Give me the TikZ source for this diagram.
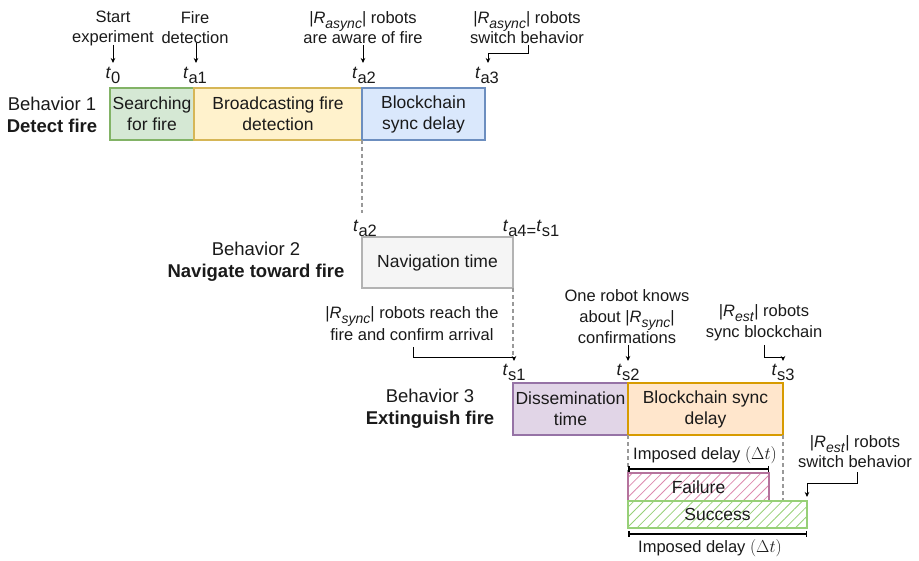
\documentclass[tikz,border=0pt]{standalone}
\usepackage{fontspec}
\setmainfont{Liberation Sans}
\usetikzlibrary{arrows.meta,patterns.meta}
\definecolor{txt}{HTML}{1A1A1A}
\definecolor{gF}{HTML}{D5E8D4}\definecolor{gD}{HTML}{82B366}
\definecolor{yF}{HTML}{FFF2CC}\definecolor{yD}{HTML}{D6B656}
\definecolor{bF}{HTML}{DAE8FC}\definecolor{bD}{HTML}{6C8EBF}
\definecolor{nF}{HTML}{F5F5F5}\definecolor{nD}{HTML}{B3B3B3}
\definecolor{pF}{HTML}{E1D5E7}\definecolor{pD}{HTML}{9673A6}
\definecolor{oF}{HTML}{FFE6CC}\definecolor{oD}{HTML}{D79B00}
\definecolor{fD}{HTML}{B5739D}\definecolor{fH}{HTML}{DD8AAE}
\definecolor{sD}{HTML}{97D077}
\definecolor{dashc}{HTML}{999999}
\newcommand\myR[1]{|\textit{R}\raisebox{-0.3em}{\fontsize{14}{14}\selectfont\textit{#1}}|}
\newcommand\myt[1]{\textit{t}\raisebox{-0.3em}{\fontsize{16.5}{16.5}\selectfont #1}}
\tikzset{
  ann/.style={align=center,inner sep=0pt,text=txt,font=\fontsize{16.5}{20}\selectfont},
  tl/.style={anchor=north,inner sep=0pt,text=txt,font=\fontsize{17.5}{20}\selectfont},
  beh/.style={align=center,inner sep=0pt,text=txt,font=\fontsize{18.5}{22}\selectfont},
  box/.style={draw,line width=1.5pt,anchor=north west,outer sep=0pt,inner sep=1pt,align=center,text=txt,font=\fontsize{17.5}{21}\selectfont},
  hbox/.style={draw,line width=1.2pt,anchor=north west,outer sep=0pt,inner sep=1pt,align=center,text=txt,font=\fontsize{17.5}{21}\selectfont},
  arr/.style={-{Stealth[length=5pt,width=4.5pt]},line width=0.8pt,black},
  dline/.style={dashc,line width=1.3pt,dash pattern=on 4pt off 3pt},
  bracket/.style={{Bar[width=6pt]}-{Bar[width=6pt]},line width=1.5pt,black},
}
\begin{document}
\begin{tikzpicture}[x=1pt,y=-1pt]
\useasboundingbox (0,0) rectangle (919,561);
% top annotations
\node[ann] (n0) at (113,28) {Start\\experiment};
\node[ann] (n1) at (195,28) {Fire\\detection};
\node[ann] (n2) at (363,28) {\myR{async} robots\\are aware of fire};
\node[ann] (n3) at (527,28) {\myR{async} robots\\switch behavior};
\node[tl] (t0) at (113,67) {\myt{0}};
\node[tl] (ta1) at (195,67) {\myt{a1}};
\node[tl] (ta2) at (364,67) {\myt{a2}};
\node[tl] (ta3) at (487,67) {\myt{a3}};
\coordinate (a0) at (113,45);
\coordinate (a1) at (196,43);
\coordinate (a2) at (363,45);
\coordinate (a3) at (528,45);
\draw[arr,shorten >=4pt] (a0) -- (t0.north);
\draw[arr,shorten >=4pt] (a1) -- (a1 |- ta1.north);
\draw[arr,shorten >=4pt] (a2) -- (a2 |- ta2.north);
\draw[arr,shorten >=4pt] (a3) -- ++(0,8) -| ([xshift=1pt]ta3.north);
% behavior 1
\node[beh] (beh1) at (52,115) {Behavior 1\\\textbf{Detect fire}};
\node[box,fill=gF,draw=gD,minimum width=84pt,minimum height=52pt] (b1) at (110,88) {Searching\\for fire};
\node[box,fill=yF,draw=yD,minimum width=168pt,minimum height=52pt] (b2) at (194,88) {Broadcasting fire\\detection};
\node[box,fill=bF,draw=bD,minimum width=123pt,minimum height=52pt] (b3) at (362,88) {Blockchain\\sync delay};
% behavior 2
\node[tl] (ta2b) at (365,220) {\myt{a2}};
\node[tl] (ta4) at (531,220) {\myt{a4=}\myt{s1}};
\draw[dline,shorten >=7pt] (b3.south west) -- (b3.south west |- ta2b.north);
\node[beh] (beh2) at (256,262) {Behavior 2\\\textbf{Navigate toward fire}};
\node[box,fill=nF,draw=nD,minimum width=151pt,minimum height=51pt] (nav) at (362,237) {Navigation time};
% behavior 3 annotations
\node[tl] (ts1) at (514,364) {\myt{s1}};
\node[tl] (ts2) at (628,364) {\myt{s2}};
\node[tl] (ts3) at (783,364) {\myt{s3}};
\draw[dline,shorten >=6pt] (nav.south east) -- (nav.south east |- ts1.north);
\node[ann,font=\fontsize{16.5}{22}\selectfont] (n4) at (412,324) {\myR{sync} robots reach the\\fire and confirm arrival};
\node[ann,font=\fontsize{16.5}{21}\selectfont] (n5) at (627,317) {One robot knows\\about \myR{sync}\\confirmations};
\node[ann,font=\fontsize{16.5}{21}\selectfont] (n6) at (764,323) {\myR{est} robots\\sync blockchain};
\coordinate (a4) at (413,347);
\coordinate (a5) at (628,345);
\coordinate (a6) at (764,345);
\draw[arr,shorten >=3pt] (a4) -- ++(0,10) -| (ts1.north);
\draw[arr,shorten >=3pt] (a5) -- (ts2.north);
\draw[arr,shorten >=3pt] (a6) -- ++(0,12) -| (ts3.north);
\node[beh] (beh3) at (430,409) {Behavior 3\\\textbf{Extinguish fire}};
\node[box,fill=pF,draw=pD,minimum width=115pt,minimum height=52pt] (dis) at (513,383) {Dissemination\\time};
\node[box,fill=oF,draw=oD,minimum width=155pt,minimum height=52pt] (bsy) at (628,383) {Blockchain sync\\delay};
% failure / success
\coordinate (sb) at (628,528);
\draw[dline] (bsy.south west) -- (sb);
\draw[dline] (bsy.south east) -- (bsy.south east |- 0,501);
\node[ann] (idl1) at (705,455) {Imposed delay $(\Delta t)$};
\node[hbox,draw=fD,pattern={Lines[angle=45,distance=7pt,line width=0.8pt]},pattern color=fH,minimum width=141pt,minimum height=28pt] (fail) at (628,473) {Failure};
\node[hbox,draw=sD,pattern={Lines[angle=45,distance=7pt,line width=0.8pt]},pattern color=sD,minimum width=179pt,minimum height=27pt] (succ) at (628,501) {Success};
\draw[bracket] ([yshift=4pt]fail.north west) -- ([yshift=4pt]fail.north east);
\draw[bracket] ([yshift=-6pt]succ.south west) -- ([yshift=-6pt]succ.south east);
\node[ann] (idl2) at (710,548) {Imposed delay $(\Delta t)$};
\node[ann] (n7) at (855,452) {\myR{est} robots\\switch behavior};
\coordinate (a7) at (857,472);
\draw[arr,shorten >=4pt] (a7) -- ++(0,11) -| (succ.north east);
\end{tikzpicture}
\end{document}
